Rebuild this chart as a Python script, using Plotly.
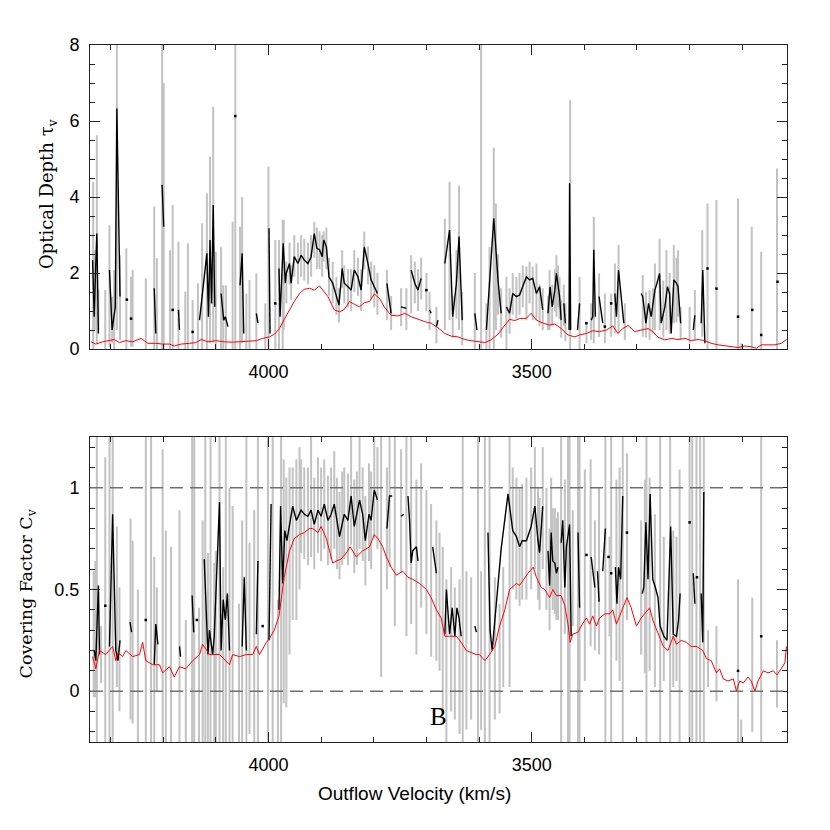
import plotly.graph_objects as go

# ---------------- TOP PANEL: optical depth ----------------
tau_red_vel = [4337, 4328, 4315, 4302, 4293, 4283, 4271, 4258, 4242, 4229, 4214, 4201, 4188, 4179, 4166, 4150,
               4138, 4128, 4115, 4100, 4084, 4068, 4052, 4036, 4023, 4011, 3998, 3989, 3979, 3970, 3960, 3951,
               3941, 3932, 3922, 3913, 3903, 3897, 3887, 3875, 3865, 3856, 3846, 3837, 3827, 3818, 3808, 3799,
               3789, 3780, 3767, 3754, 3741, 3729, 3716, 3703, 3691, 3678, 3665, 3653, 3640, 3627, 3615, 3602,
               3589, 3577, 3564, 3551, 3542, 3532, 3523, 3510, 3501, 3491, 3478, 3466, 3456, 3444, 3431, 3418,
               3409, 3396, 3384, 3371, 3358, 3346, 3336, 3327, 3317, 3304, 3292, 3279, 3270, 3260, 3247, 3235,
               3222, 3209, 3197, 3184, 3171, 3159, 3146, 3133, 3121, 3108, 3095, 3083, 3073, 3064, 3051, 3038,
               3026, 3016]
tau_red = [0.19, 0.13, 0.19, 0.22, 0.25, 0.17, 0.22, 0.19, 0.28, 0.15, 0.15, 0.13, 0.13, 0.08, 0.13, 0.15,
           0.17, 0.25, 0.19, 0.22, 0.19, 0.18, 0.19, 0.20, 0.22, 0.28, 0.32, 0.39, 0.54, 0.78, 1.03, 1.25,
           1.46, 1.57, 1.60, 1.55, 1.66, 1.55, 1.38, 1.03, 0.98, 1.04, 1.25, 1.18, 1.11, 1.22, 1.25, 1.45,
           1.33, 1.11, 0.89, 0.87, 0.94, 0.85, 0.78, 0.72, 0.68, 0.56, 0.41, 0.34, 0.32, 0.25, 0.22, 0.19,
           0.17, 0.24, 0.39, 0.63, 0.78, 0.75, 0.80, 0.81, 0.94, 0.76, 0.68, 0.63, 0.66, 0.54, 0.37, 0.32,
           0.37, 0.41, 0.48, 0.46, 0.50, 0.61, 0.41, 0.54, 0.62, 0.46, 0.50, 0.54, 0.46, 0.31, 0.24, 0.28,
           0.25, 0.28, 0.22, 0.25, 0.22, 0.15, 0.11, 0.08, 0.06, 0.04, 0.08, 0.06, 0.02, 0.11, 0.11, 0.11,
           0.15, 0.25]

tau_vel = [4334, 4331, 4328, 4326, 4323, None,
           4302, 4297, 4291, 4288, 4282, None,
           4217, 4214, None, 4202, 4199, None, 4171, 4169, None,
           4131, 4117, 4114, 4111, 4108, 4105, 4102, None,
           4090, 4085, 4082, 4077, None, 4054, 4050, 4047, None,
           4023, 4020, None, 3999, 3997, None,
           3980, 3978, 3972, 3968, 3966, 3960, 3957, 3951, 3944, 3938, 3932, 3925, 3919, 3913, 3908, 3903,
           3898, 3895, 3890, 3885, 3878, 3871, 3866, 3860, 3856, 3849, 3843, 3837, 3830, 3824, 3818, 3811,
           3805, 3799, 3793, None,
           3775, 3767, None, 3748, 3738, None, 3729, 3722, 3716, 3710, None,
           3694, 3691, None, 3681, 3678, None,
           3665, 3656, 3650, 3643, 3638, 3632, None, 3608, 3604, None,
           3586, 3580, 3572, 3564, 3558, None,
           3548, 3542, 3536, 3529, 3523, 3517, 3510, 3504, 3498, 3491, 3485, 3479, None,
           3469, 3465, 3461, 3456, 3453, 3450, 3447, 3444, None, 3439, 3436, None,
           3429, 3428, 3426, None, 3413, 3409, None,
           3387, 3384, 3382, 3379, None, 3372, 3365, None,
           3342, 3339, 3335, 3330, 3325, None,
           3292, 3289, 3283, 3278, 3273, 3266, 3262, 3257, 3254, 3247, 3242, 3238, 3235, 3230, 3225, 3222,
           3217, None, 3193, 3190, None, 3178, 3175, 3171]
tau = [2.34, 0.85, 2.25, 3.04, 0.41, None,
       2.08, 0.50, 1.11, 6.33, 1.38, None,
       1.60, 0.41, None, 4.32, 3.22, None, 1.03, 0.50, None,
       0.76, 2.52, 0.85, 2.87, 1.20, 3.79, 1.11, None,
       1.46, 0.76, 0.85, 0.59, None, 1.68, 2.52, 0.41, None,
       0.94, 0.68, None, 3.18, 0.41, None,
       2.12, 0.85, 2.78, 1.73, 2.00, 2.25, 1.73, 2.43, 2.25, 2.47, 2.34, 2.25, 2.43, 3.04, 2.65, 2.61,
       2.43, 2.87, 2.69, 1.90, 1.73, 1.38, 1.16, 2.12, 1.73, 1.64, 1.55, 2.08, 1.90, 1.55, 2.69, 2.25,
       1.82, 1.64, 1.46, None,
       1.73, 0.94, None, 1.11, 1.07, None, 2.08, 1.73, 1.55, 1.86, None,
       1.03, 0.94, None, 0.59, 0.76, None,
       2.25, 3.13, 0.85, 1.73, 2.96, 0.76, None, 0.94, 0.50, None,
       0.50, 1.82, 3.44, 1.82, 0.94, None,
       1.11, 0.94, 1.46, 1.38, 1.42, 1.64, 1.90, 1.82, 1.86, 1.46, 1.64, 1.03, None,
       0.94, 1.64, 1.11, 1.55, 1.99, 1.64, 1.38, 0.76, None, 1.20, 0.68, None,
       0.50, 4.36, 0.50, None, 0.50, 1.20, None,
       0.76, 0.85, 2.61, 0.85, None, 1.38, 0.68, None,
       1.46, 0.85, 2.08, 1.29, 0.68, None,
       1.46, 1.38, 0.68, 1.20, 0.85, 1.55, 1.73, 1.99, 0.68, 1.11, 1.64, 1.46, 0.41, 1.82, 1.73, 1.64,
       0.68, None, 0.50, 0.89, None, 0.68, 2.08, 0.15]

tau_dot_vel = [4269, 4261, 4182, 4144, 4063, 3987, 3700, 3396, 3361, 3349, 3166, 3149, 3108, 3081, 3064, 3033]
tau_dot = [1.30, 0.80, 1.03, 0.45, 6.13, 1.20, 1.55, 0.68, 0.59, 1.20, 2.12, 1.59, 0.85, 1.03, 0.37, 1.77]

tau_bar_vel = [4333, 4330, 4326, 4323, 4310, 4302, 4297, 4293, 4288, 4282, 4270, 4261, 4258, 4233, 4217, 4212,
               4202, 4199, 4187, 4182,
               4171, 4158, 4153, 4144, 4134, 4126, 4117, 4111, 4105, 4100, 4090, 4086, 4081, 4068, 4063, 4054,
               4050, 4042, 4036, 4023,
               4006, 4000, 3987, 3980, 3973,
               3971, 3966, 3960, 3957, 3951, 3944, 3938, 3932, 3925, 3919, 3913, 3908, 3903, 3898, 3895, 3890,
               3885, 3878, 3871, 3866,
               3860, 3856, 3849, 3843, 3837, 3830, 3824, 3818, 3811, 3805, 3799, 3793,
               3775, 3767, 3748, 3738, 3729, 3722, 3716, 3710, 3700, 3694, 3681, 3665, 3656, 3650, 3643, 3638,
               3632, 3608, 3596, 3586,
               3580, 3572, 3568, 3564, 3558, 3548, 3542, 3536, 3529, 3523, 3517, 3510, 3504, 3498, 3491, 3485,
               3479, 3469, 3466, 3461, 3456, 3453, 3450, 3447, 3444, 3439, 3436, 3427, 3409, 3396, 3387, 3382,
               3372, 3361, 3349, 3342,
               3335, 3323, 3289, 3283, 3276, 3270, 3266, 3257, 3250, 3244, 3238, 3230, 3225, 3222, 3217, 3200,
               3190, 3176, 3166, 3149,
               3108, 3102, 3082, 3064, 3034]
tau_bar_lo = [0, 0.5, 0.15, 0.5, 0, 0.06, 0.15, 0, 0.5, 0.24, 0, 0.06, 0.06, 0, 0, 0,
              0, 0, 0, 0,
              0, 0, 0, 0, 0, 0, 0, 0.15, 0.15, 0, 0, 0, 0, 0, 0, 0,
              0.15, 0, 0, 0,
              0, 0, 0, 0, 0,
              0.5, 1.2, 1.7, 1.3, 1.9, 1.7, 1.9, 1.8, 1.7, 1.9, 2.4, 2.1, 2.1, 1.9, 2.3, 2.1,
              1.4, 1.2, 0.9, 0.7,
              1.6, 1.2, 1.1, 1.0, 1.5, 1.4, 1.0, 2.1, 1.7, 1.3, 1.1, 0.9,
              0.76, 0.5, 0.6, 0.5, 0.94, 1.2, 1.0, 1.3, 1.0, 0.5, 0.15, 0.5, 0.76, 0.3, 0.8, 0.5,
              0.1, 0, 0, 0,
              0, 0, 0.5, 0.9, 0.3, 0, 0.4, 0.9, 0.8, 0.9, 1.1, 0.76, 1.2, 0.76, 0.76, 0.6,
              0.5, 0.5, 0.5, 0.6, 1.0, 0.85, 1.1, 0.8, 0.3, 0.6, 0.2, 0, 0, 0.15, 0.24, 0.15,
              0.32, 0.15, 0.32, 0.41,
              0.41, 0.24, 0.32, 0.3, 0.24, 0.4, 0.5, 0.5, 0.3, 0.5, 0.4, 0.68, 0.7, 0.85, 0.24, 0.15,
              0.24, 0.32, 0, 0,
              0, 0, 0, 0, 0]
tau_bar_hi = [4.4, 2.6, 5.63, 1.55, 1.55, 3.26, 1.38, 2.08, 9, 2.47, 2.65, 1.9, 2.08, 1.86, 3.75, 2.39,
              9, 7.0, 2.6, 3.79,
              2.82, 1.51, 2.78, 1.29, 1.73, 3.31, 4.1, 5.06, 6.38, 2.56, 2.69, 1.68, 1.68, 3.35, 9, 3.22,
              4.0, 1.46, 1.82, 1.99,
              1.2, 4.8, 2.87, 2.87, 3.4,
              3.4, 2.3, 2.8, 2.2, 3.0, 2.8, 3.0, 2.9, 2.8, 3.0, 3.35, 3.2, 3.1, 3.0, 3.1, 3.2,
              2.4, 2.3, 1.9, 1.6,
              2.6, 2.2, 2.1, 2.1, 2.6, 2.4, 2.1, 3.09, 2.7, 2.3, 2.2, 2.0,
              2.08, 1.4, 1.6, 1.6, 2.47, 2.3, 2.1, 2.4, 2.0, 1.5, 1.11, 3.43, 4.4, 1.4, 2.6, 4.3,
              1.5, 2.0, 9, 1.2,
              2.69, 5.3, 3.83, 2.5, 1.6, 1.9, 1.6, 2.0, 1.9, 2.0, 2.2, 2.17, 2.3, 2.17, 2.25, 1.7,
              1.6, 1.4, 2.08, 1.7, 2.1, 2.47, 2.2, 1.9, 1.3, 1.7, 1.2, 6.55, 1.9, 0.68, 1.2, 3.48,
              1.99, 1.46, 1.46, 2.25,
              2.74, 1.2, 1.95, 1.5, 1.55, 1.6, 2.25, 2.9, 1.8, 2.6, 2.0, 2.74, 2.4, 2.6, 1.11, 1.11,
              1.55, 3.13, 3.83, 3.92,
              3.96, 0.15, 3.22, 2.56, 4.75]

# ---------------- BOTTOM PANEL: covering factor ----------------
cf_red_vel = [4334, 4328, 4321, 4309, 4296, 4290, 4286, 4277, 4271, 4258, 4245, 4239, 4233, 4220, 4207, 4201,
              4188, 4179, 4169, 4157, 4144, 4131, 4125, 4112, 4093, 4074, 4068, 4055, 4042, 4030, 4023, 4017,
              4004, 3998, 3989, 3980, 3970, 3960, 3951, 3941, 3932, 3922, 3916, 3906, 3900, 3890, 3884, 3878,
              3871, 3862, 3852, 3845, 3833, 3821, 3808, 3799, 3792, 3783, 3776, 3767, 3757, 3745, 3735, 3726,
              3713, 3700, 3691, 3681, 3672, 3665, 3656, 3643, 3634, 3624, 3615, 3605, 3599, 3589, 3580, 3570,
              3561, 3551, 3542, 3529, 3523, 3513, 3507, 3497, 3491, 3482, 3475, 3466, 3460, 3453, 3444, 3437,
              3431, 3427, 3422, 3412, 3406, 3396, 3390, 3384, 3377, 3371, 3361, 3352, 3346, 3339, 3330, 3319,
              3311, 3301, 3292, 3282, 3276, 3270, 3260, 3250, 3241, 3231, 3225, 3216, 3206, 3197, 3187, 3181,
              3175, 3168, 3159, 3149, 3143, 3136, 3127, 3117, 3111, 3105, 3098, 3089, 3083, 3076, 3070, 3060,
              3051, 3041, 3034, 3026, 3019, 3016]
cf_red = [0.17, 0.11, 0.20, 0.18, 0.22, 0.15, 0.19, 0.17, 0.20, 0.17, 0.18, 0.24, 0.15, 0.13, 0.13, 0.09,
          0.12, 0.07, 0.12, 0.11, 0.15, 0.18, 0.23, 0.18, 0.18, 0.13, 0.18, 0.17, 0.18, 0.18, 0.22, 0.18,
          0.24, 0.26, 0.30, 0.37, 0.56, 0.69, 0.75, 0.77, 0.78, 0.80, 0.80, 0.78, 0.81, 0.75, 0.69, 0.63,
          0.64, 0.65, 0.68, 0.71, 0.66, 0.69, 0.71, 0.77, 0.75, 0.71, 0.66, 0.61, 0.57, 0.59, 0.56, 0.55,
          0.53, 0.50, 0.46, 0.40, 0.36, 0.27, 0.27, 0.27, 0.24, 0.20, 0.19, 0.18, 0.18, 0.15, 0.18, 0.22,
          0.32, 0.40, 0.50, 0.53, 0.52, 0.56, 0.58, 0.61, 0.56, 0.51, 0.50, 0.46, 0.50, 0.47, 0.47, 0.42,
          0.33, 0.24, 0.28, 0.29, 0.32, 0.36, 0.33, 0.37, 0.32, 0.36, 0.38, 0.38, 0.40, 0.33, 0.39, 0.46,
          0.41, 0.32, 0.36, 0.39, 0.41, 0.35, 0.28, 0.22, 0.20, 0.27, 0.23, 0.25, 0.24, 0.22, 0.22, 0.21,
          0.20, 0.16, 0.15, 0.09, 0.11, 0.06, 0.05, 0.06, 0.00, 0.05, 0.04, 0.07, 0.05, 0.00, 0.05, 0.10,
          0.09, 0.10, 0.08, 0.11, 0.14, 0.22]

cf_vel = [4331, 4328, 4323, 4321, None,
          4302, 4296, 4290, 4286, 4282, None,
          4263, 4260, None, 4217, 4214, 4210, None, 4169, 4167, None, 4145, 4142, None,
          4122, 4115, 4112, 4106, 4103, 4093, 4090, 4086, 4082, 4078, 4074, None,
          4050, 4046, 4042, None, 4023, 4020, None, 3999, 3995, None,
          3980, 3977, 3973, 3969, 3965, 3960, 3954, 3947, 3941, 3938, 3932, 3925, 3919, 3913, 3906, 3900,
          3894, 3887, 3881, 3875, 3865, 3856, 3849, 3843, 3837, 3827, 3821, 3816, 3809, 3805, 3799, 3793,
          None,
          3775, 3770, 3765, None, 3748, 3743, None,
          3735, 3732, 3729, 3726, 3719, 3716, None, 3688, 3681, None,
          3665, 3662, 3656, 3651, 3646, 3642, 3638, 3634, None, 3608, 3605, None,
          3583, 3579, 3575, 3570, 3564, 3558, 3545, 3536, 3529, 3523, 3518, 3510, 3501, 3494, 3488, 3485,
          3479, None,
          3469, 3466, 3463, 3460, 3456, 3453, 3450, None,
          3444, 3441, 3437, 3434, 3428, 3425, None, 3412, 3409, None,
          3387, 3380, None, 3375, 3372, None, 3365, 3360, None,
          3341, 3338, 3335, 3331, 3327, None,
          3290, 3287, 3283, 3279, 3275, 3270, 3265, 3260, 3256, 3249, 3243, 3236, 3231, 3225, 3221, 3218,
          None, 3193, 3190, None, 3178, 3175, 3173]
cf = [0.20, 0.15, 0.52, 0.18, None,
      0.22, 0.87, 0.20, 0.15, 0.25, None,
      0.34, 0.29, None, 0.13, 0.33, 0.23, None, 0.22, 0.17, None, 0.47, 0.29, None,
      0.65, 0.18, 0.30, 0.18, 0.27, 0.93, 0.20, 0.45, 0.35, 0.48, 0.20, None,
      0.22, 0.56, 0.20, None, 0.28, 0.64, None, 0.25, 0.92, None,
      0.40, 0.91, 0.53, 0.79, 0.74, 0.82, 0.91, 0.84, 0.87, 0.89, 0.87, 0.86, 0.89, 0.82, 0.89, 0.86,
      0.92, 0.84, 0.87, 0.92, 0.76, 0.87, 0.84, 0.96, 0.81, 0.94, 0.87, 0.74, 0.87, 0.84, 0.99, 0.94,
      None,
      0.80, 0.96, 0.96, None, 0.86, 0.87, None,
      0.96, 0.84, 0.63, 0.69, 0.71, 0.64, None, 0.71, 0.58, None,
      0.28, 0.50, 0.28, 0.41, 0.27, 0.41, 0.36, 0.27, None, 0.32, 0.29, None,
      0.78, 0.30, 0.20, 0.35, 0.50, 0.70, 0.97, 0.79, 0.76, 0.71, 0.74, 0.74, 0.81, 0.91, 0.74, 0.68,
      0.91, None,
      0.69, 0.52, 0.78, 0.64, 0.63, 0.58, 0.61, None,
      0.73, 0.84, 0.51, 0.71, 0.82, 0.27, None, 0.78, 0.41, None,
      0.66, 0.51, None, 0.59, 0.44, None, 0.59, 0.80, None,
      0.61, 0.43, 0.61, 0.55, 0.96, None,
      0.48, 0.51, 0.83, 0.55, 0.97, 0.55, 0.51, 0.46, 0.32, 0.27, 0.25, 0.81, 0.28, 0.27, 0.35, 0.48,
      None, 0.58, 0.43, None, 0.48, 0.24, 0.98]

cf_dot_vel = [4310, 4233, 4136, 4011, 3396, 3354, 3349, 3319, 3200, 3186, 3108, 3064]
cf_dot = [0.42, 0.35, 0.35, 0.32, 0.67, 0.66, 0.58, 0.78, 0.83, 0.56, 0.10, 0.27]

cf_bar_vel = [4332, 4329, 4326, 4318, 4310, 4302, 4296, 4288, 4283, 4262, 4258, 4248, 4233, 4223, 4217, 4212,
              4201, 4195, 4185, 4169,
              4157, 4145, 4141, 4132, 4125, 4120, 4115, 4110, 4103, 4100, 4093, 4086, 4081, 4074, 4068, 4056,
              4050, 4042, 4036, 4027,
              4020, 4001, 3992, 3982, 3976, 3971, 3966, 3960, 3954, 3947, 3941, 3938,
              3932, 3925, 3919, 3913, 3906, 3900, 3894, 3887, 3881, 3875, 3870, 3865, 3860, 3856, 3849, 3843,
              3837, 3832, 3827, 3821,
              3816, 3809, 3805, 3799, 3793, 3786, 3775, 3770, 3760, 3748, 3738, 3729, 3719, 3710, 3700, 3691,
              3681, 3675, 3669, 3662,
              3653, 3646, 3637, 3631, 3624, 3615, 3602, 3596, 3589, 3580, 3570, 3561, 3554, 3542, 3536, 3529,
              3523, 3518, 3510, 3501,
              3494, 3488, 3485, 3479, 3472, 3466, 3463, 3460, 3456, 3453, 3450, 3444, 3437, 3431, 3428, 3422,
              3412, 3409, 3399, 3388,
              3380, 3372, 3360, 3352, 3349, 3339, 3333, 3327, 3319, 3292, 3285, 3282, 3276, 3266, 3256, 3249,
              3237, 3231, 3225, 3219,
              3200, 3195, 3187, 3180, 3173, 3165, 3149, 3108, 3102, 3081, 3064, 3034]
cf_bar_lo = [-0.03, -0.03, -0.3, 0.04, -0.3, -0.3, -0.3, 0.02, -0.1, -0.14, -0.16, -0.3, -0.3, -0.3, -0.3, 0.0,
             -0.3, -0.3, -0.3, -0.3,
             -0.3, -0.3, -0.3, -0.3, -0.3, -0.3, -0.3, -0.3, -0.3, -0.3, -0.3, -0.3, -0.3, -0.3, -0.3, -0.3,
             -0.3, -0.3, -0.21, -0.3,
             -0.3, -0.3, -0.3, -0.3, -0.3, -0.06, -0.08, 0.18, 0.35, 0.35, 0.5, 0.68,
             0.65, 0.62, 0.66, 0.6, 0.68, 0.64, 0.7, 0.62, 0.65, 0.7, 0.6, 0.55, 0.62, 0.65, 0.62, 0.72,
             0.58, 0.62, 0.7, 0.64,
             0.52, 0.64, 0.6, 0.75, 0.7, 0.07, 0.5, 0.61, 0.32, 0.58, 0.27, 0.33, 0.18, 0.41, 0.28, 0.17,
             0.15, 0.1, -0.1, -0.3,
             -0.1, -0.14, -0.21, -0.3, -0.19, -0.14, -0.3, -0.19, -0.3, -0.3, -0.14, -0.11, 0.02, 0.02, 0.5, 0.45,
             0.42, 0.45, 0.45, 0.5,
             0.6, 0.45, 0.4, 0.6, 0.4, 0.3, 0.5, 0.4, 0.38, 0.35, 0.35, -0.3, 0.28, -0.3, -0.3, 0.32,
             -0.3, -0.3, 0.05, 0.22,
             0.2, 0.18, -0.3, 0.27, -0.3, 0.15, 0.05, -0.3, 0.35, 0.18, 0.09, -0.3, 0.1, 0.02, -0.3, 0.05,
             -0.3, 0.02, 0.05, -0.3,
             -0.3, -0.3, -0.3, -0.3, -0.3, 0.02, -0.05, -0.3, -0.3, -0.2, -0.3, -0.08]
cf_bar_hi = [0.59, 0.64, 1.3, 0.32, 1.15, 1.3, 1.3, 0.81, 0.51, 0.85, 0.74, 0.5, 1.3, 1.3, 0.66, 0.51,
             1.19, 0.79, 0.71, 0.89,
             0.35, 1.3, 1.3, 0.41, 0.84, 1.3, 0.68, 1.3, 0.63, 0.69, 1.3, 0.61, 1.3, 1.0, 0.91, 0.43,
             0.84, 1.3, 0.73, 0.89,
             1.3, 1.3, 1.3, 0.45, 1.3, 1.14, 1.05, 1.1, 1.1, 1.14, 1.2, 1.14,
             1.1, 1.1, 1.3, 1.05, 1.15, 1.1, 1.14, 1.06, 1.1, 1.18, 1.05, 0.98, 1.08, 1.1, 1.07, 1.3,
             1.04, 1.08, 1.3, 1.1,
             0.96, 1.12, 1.08, 1.3, 1.2, 1.3, 1.1, 1.3, 1.3, 1.19, 1.3, 1.3, 1.04, 1.12, 0.99, 0.92,
             0.84, 0.78, 0.71, 0.55,
             0.61, 0.51, 0.55, 1.3, 0.59, 0.56, 1.3, 0.59, 1.3, 1.3, 0.56, 0.43, 0.61, 1.3, 1.1, 1.05,
             1.0, 1.02, 1.05, 1.1,
             1.2, 1.0, 0.95, 1.2, 1.0, 0.8, 1.05, 0.9, 0.9, 0.85, 0.88, 1.3, 1.04, 1.3, 1.3, 0.89,
             1.3, 1.3, 1.09, 1.14,
             0.84, 1.0, 1.3, 0.76, 1.3, 1.04, 1.1, 1.3, 1.17, 0.84, 1.04, 1.3, 1.05, 0.87, 1.3, 0.76,
             1.3, 0.79, 0.76, 1.09,
             1.3, 1.3, 1.3, 1.3, 1.3, 0.3, 0.32, 0.55, -0.14, 0.46, 1.3, 0.25]

assert len(tau_red_vel) == len(tau_red)
assert len(tau_vel) == len(tau)
assert len(tau_bar_vel) == len(tau_bar_lo) == len(tau_bar_hi)
assert len(cf_red_vel) == len(cf_red)
assert len(cf_vel) == len(cf)
assert len(cf_bar_vel) == len(cf_bar_lo) == len(cf_bar_hi)

vel_range = [4339, 3015]

GRAY = "#c2c2c2"
AXC = "#222222"
SANS = "Liberation Sans, Arial, Helvetica, sans-serif"
SERIF = "DejaVu Serif, serif"


def bar_path(v, lo, hi):
    xs, ys = [], []
    for a, l, h in zip(v, lo, hi):
        xs += [a, a, None]
        ys += [l, h, None]
    return xs, ys


fig = go.Figure()

# top panel traces
bx, by = bar_path(tau_bar_vel, tau_bar_lo, tau_bar_hi)
fig.add_trace(go.Scatter(x=bx, y=by, mode="lines", line=dict(color=GRAY, width=2),
                         xaxis="x2", yaxis="y2", hoverinfo="skip"))
fig.add_trace(go.Scatter(x=tau_vel, y=tau, mode="lines", line=dict(color="black", width=1.4),
                         xaxis="x2", yaxis="y2", connectgaps=False))
fig.add_trace(go.Scatter(x=tau_dot_vel, y=tau_dot, mode="markers",
                         marker=dict(color="black", size=2.5, symbol="square"),
                         xaxis="x2", yaxis="y2"))
fig.add_trace(go.Scatter(x=tau_red_vel, y=tau_red, mode="lines", line=dict(color="red", width=1),
                         xaxis="x2", yaxis="y2"))

# bottom panel traces
bx, by = bar_path(cf_bar_vel, cf_bar_lo, cf_bar_hi)
fig.add_trace(go.Scatter(x=bx, y=by, mode="lines", line=dict(color=GRAY, width=2),
                         xaxis="x", yaxis="y", hoverinfo="skip"))
fig.add_trace(go.Scatter(x=cf_vel, y=cf, mode="lines", line=dict(color="black", width=1.4),
                         xaxis="x", yaxis="y", connectgaps=False))
fig.add_trace(go.Scatter(x=cf_dot_vel, y=cf_dot, mode="markers",
                         marker=dict(color="black", size=2.5, symbol="square"),
                         xaxis="x", yaxis="y"))
fig.add_trace(go.Scatter(x=cf_red_vel, y=cf_red, mode="lines", line=dict(color="red", width=1),
                         xaxis="x", yaxis="y"))

common = dict(showline=True, linecolor=AXC, linewidth=1, mirror="ticks", ticks="inside",
              ticklen=10, tickwidth=1, tickcolor=AXC, showgrid=False, zeroline=False,
              automargin=False,
              tickfont=dict(family=SANS, size=18, color="black"))

# page body has an 8px margin: figure 814x814 so plot area sits at x 90-787, y 45-742 on the page
fig.update_layout(
    width=814, height=814,
    margin=dict(l=82, r=35, t=37, b=80),
    paper_bgcolor="white", plot_bgcolor="white",
    showlegend=False,
    xaxis=dict(domain=[0, 1], anchor="y", range=vel_range, dtick=500, tick0=0,
               minor=dict(dtick=100, ticklen=5, ticks="inside", tickcolor=AXC),
               ticklabelstandoff=6, **common),
    xaxis2=dict(domain=[0, 1], anchor="y2", range=vel_range, dtick=500, tick0=0,
                minor=dict(dtick=100, ticklen=5, ticks="inside", tickcolor=AXC),
                ticklabelstandoff=6, **common),
    yaxis=dict(domain=[0, 0.4376], anchor="x", range=[-0.25, 1.25], dtick=0.5, tick0=0,
               minor=dict(dtick=0.1, ticklen=5, ticks="inside", tickcolor=AXC),
               ticklabelstandoff=6, **common),
    yaxis2=dict(domain=[0.5638, 1], anchor="x2", range=[0, 8], dtick=2, tick0=0,
                minor=dict(dtick=0.5, ticklen=5, ticks="inside", tickcolor=AXC),
                ticklabelstandoff=6, **common),
)

# dashed reference lines in covering factor panel
for yv in (0, 1):
    fig.add_shape(type="line", xref="x domain", yref="y", x0=0, x1=1, y0=yv, y1=yv,
                  line=dict(color="#707070", width=1.5, dash="13px,7px"), layer="above")

fig.add_annotation(x=-0.0603, y=0.7875, xref="paper", yref="paper", showarrow=False,
                   text="Optical Depth τ<sub>v</sub>", textangle=-90,
                   font=dict(family=SERIF, size=18, color="black"), xanchor="center", yanchor="middle")
fig.add_annotation(x=-0.089, y=0.213, xref="paper", yref="paper", showarrow=False,
                   text="Covering Factor C<sub>v</sub>", textangle=-90,
                   font=dict(family=SERIF, size=17.5, color="black"), xanchor="center", yanchor="middle")
fig.add_annotation(x=0.465, y=-0.0746, xref="paper", yref="paper", showarrow=False,
                   text="Outflow Velocity (km/s)", xanchor="center", yanchor="middle",
                   font=dict(family=SANS, size=19, color="black"))
fig.add_annotation(x=3677, y=-0.125, xref="x", yref="y", showarrow=False, text="B",
                   font=dict(family="Liberation Serif, serif", size=25, color="black"))

fig.write_html("out.html")
